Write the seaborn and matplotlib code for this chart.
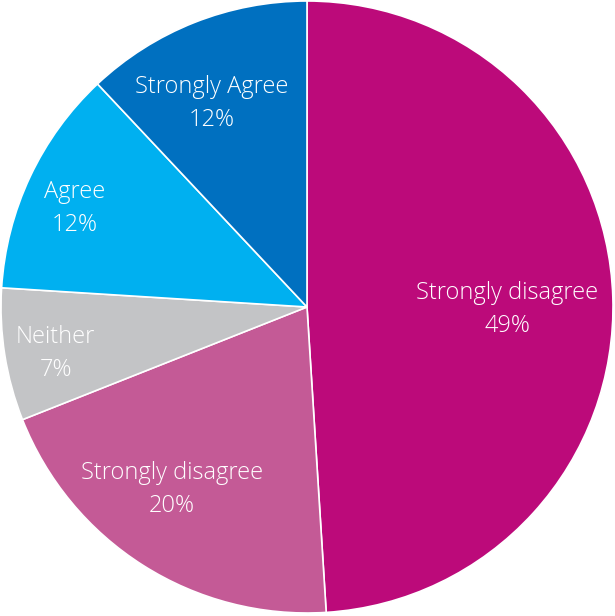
import numpy as np
import matplotlib
matplotlib.use("Agg")
import matplotlib.pyplot as plt
import seaborn as sns

sns.set_theme(style="white")
plt.rcParams['font.family'] = ['Open Sans', 'DejaVu Sans']

# slices, clockwise from 12 o'clock
labels = ["Strongly disagree", "Strongly disagree", "Neither", "Agree", "Strongly Agree"]
values = [49, 20, 7, 12, 12]
colors = ["#BC0A7A", "#C45A96", "#C3C4C6", "#00B0F0", "#0070C0"]
# label placement: fraction of radius, and clockwise nudge (deg) off the wedge middle
label_dist = [0.655, 0.743, 0.835, 0.826, 0.735]
label_nudge = [2.6, 4.0, -1.4, -2.2, -3.4]

fig = plt.figure(figsize=(6.15, 6.16), dpi=100)
ax = fig.add_axes([0, 0, 1, 1])

wedges, _ = ax.pie(values, colors=colors, startangle=90, counterclock=False,
                   radius=1.0, wedgeprops={'edgecolor': 'white', 'linewidth': 1.2})

for w, lab, v, d, n in zip(wedges, labels, values, label_dist, label_nudge):
    ang = np.deg2rad((w.theta1 + w.theta2) / 2 - n)
    x, y = d * np.cos(ang), d * np.sin(ang)
    ax.text(x, y, f"{lab}\n{v}%", ha="center", va="center", color="white",
            fontsize=17, fontweight="light", linespacing=1.5)

ax.set_xlim(-307 / 306, 308 / 306)
ax.set_ylim(-309 / 306, 307 / 306)
ax.set_aspect("equal")
ax.axis("off")

plt.savefig("out.png", dpi=100)
